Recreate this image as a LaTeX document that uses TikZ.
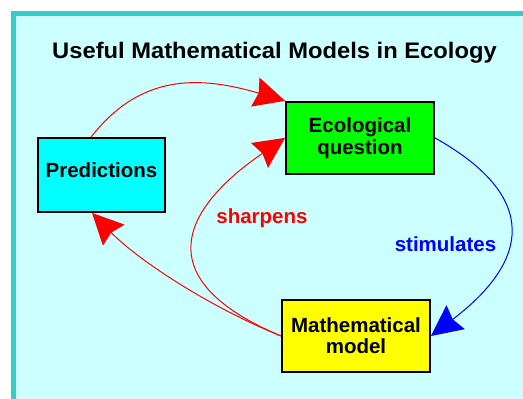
\documentclass[tikz,border=0pt]{standalone}
\usepackage{fontspec}
\setmainfont{Liberation Sans}
\usetikzlibrary{arrows.meta,calc}
\definecolor{framecol}{RGB}{51,204,204}
\definecolor{bgcol}{RGB}{204,255,255}
\definecolor{predcol}{RGB}{0,255,255}
\definecolor{ecocol}{RGB}{0,255,0}
\definecolor{mathcol}{RGB}{255,255,0}
\begin{document}
\begin{tikzpicture}[x=1pt,y=-1pt,
  box/.style={draw=black,line width=1.8pt,inner sep=2pt,
    font=\fontsize{20.5}{22.3}\selectfont\bfseries},
  lbl/.style={anchor=base,font=\fontsize{20.5}{22}\selectfont\bfseries},
  redarrow/.style={draw=red,line width=1pt,
    -{Stealth[length=31pt,width=30pt,inset=3.5pt,fill=red]}},
  bluearrow/.style={draw=blue,line width=1pt,
    -{Stealth[length=31pt,width=30pt,inset=3.5pt,fill=blue]}}]
\useasboundingbox (0,0) rectangle (523,399);
\clip (0,0) rectangle (523,399);
\fill[white] (0,0) rectangle (523,399);
\draw[framecol,line width=5pt,fill=bgcol] (13.5,13.5) rectangle (560,440);

\node[anchor=base,font=\fontsize{22.5}{24}\selectfont\bfseries] (title) at (274.5,58.3)
  {\scalebox{1.055}[1]{Useful Mathematical Models in Ecology}};

\node[box,fill=predcol,minimum width=127pt,minimum height=74pt,text depth=9pt] (pred) at (101.5,175) {Predictions};
\node[box,fill=ecocol,minimum width=148pt,minimum height=72.3pt,align=center] (eco) at (360,137.85) {Ecological\\question};
\node[box,fill=mathcol,minimum width=148pt,minimum height=72pt,align=center,
  font=\fontsize{20.5}{20.7}\selectfont\bfseries] (math) at (356,336) {Mathematical\\model};

\draw[redarrow] ($(pred.north)+(-10.5,0)$) .. controls (141,73) and (200,76) .. (eco.north west);
\draw[redarrow] (math.west) .. controls (207,306) and (137,259) .. ($(pred.south)+(-9.5,0)$);
\draw[redarrow] (math.west) .. controls (148,280) and (180,210) .. (eco.west);
\draw[bluearrow] (eco.east) .. controls (542,198) and (528,262) .. (math.east);

\node[lbl,text=red] (sharp) at (262,223) {sharpens};
\node[lbl,text=blue] (stim) at (445.5,251) {stimulates};
\end{tikzpicture}
\end{document}
